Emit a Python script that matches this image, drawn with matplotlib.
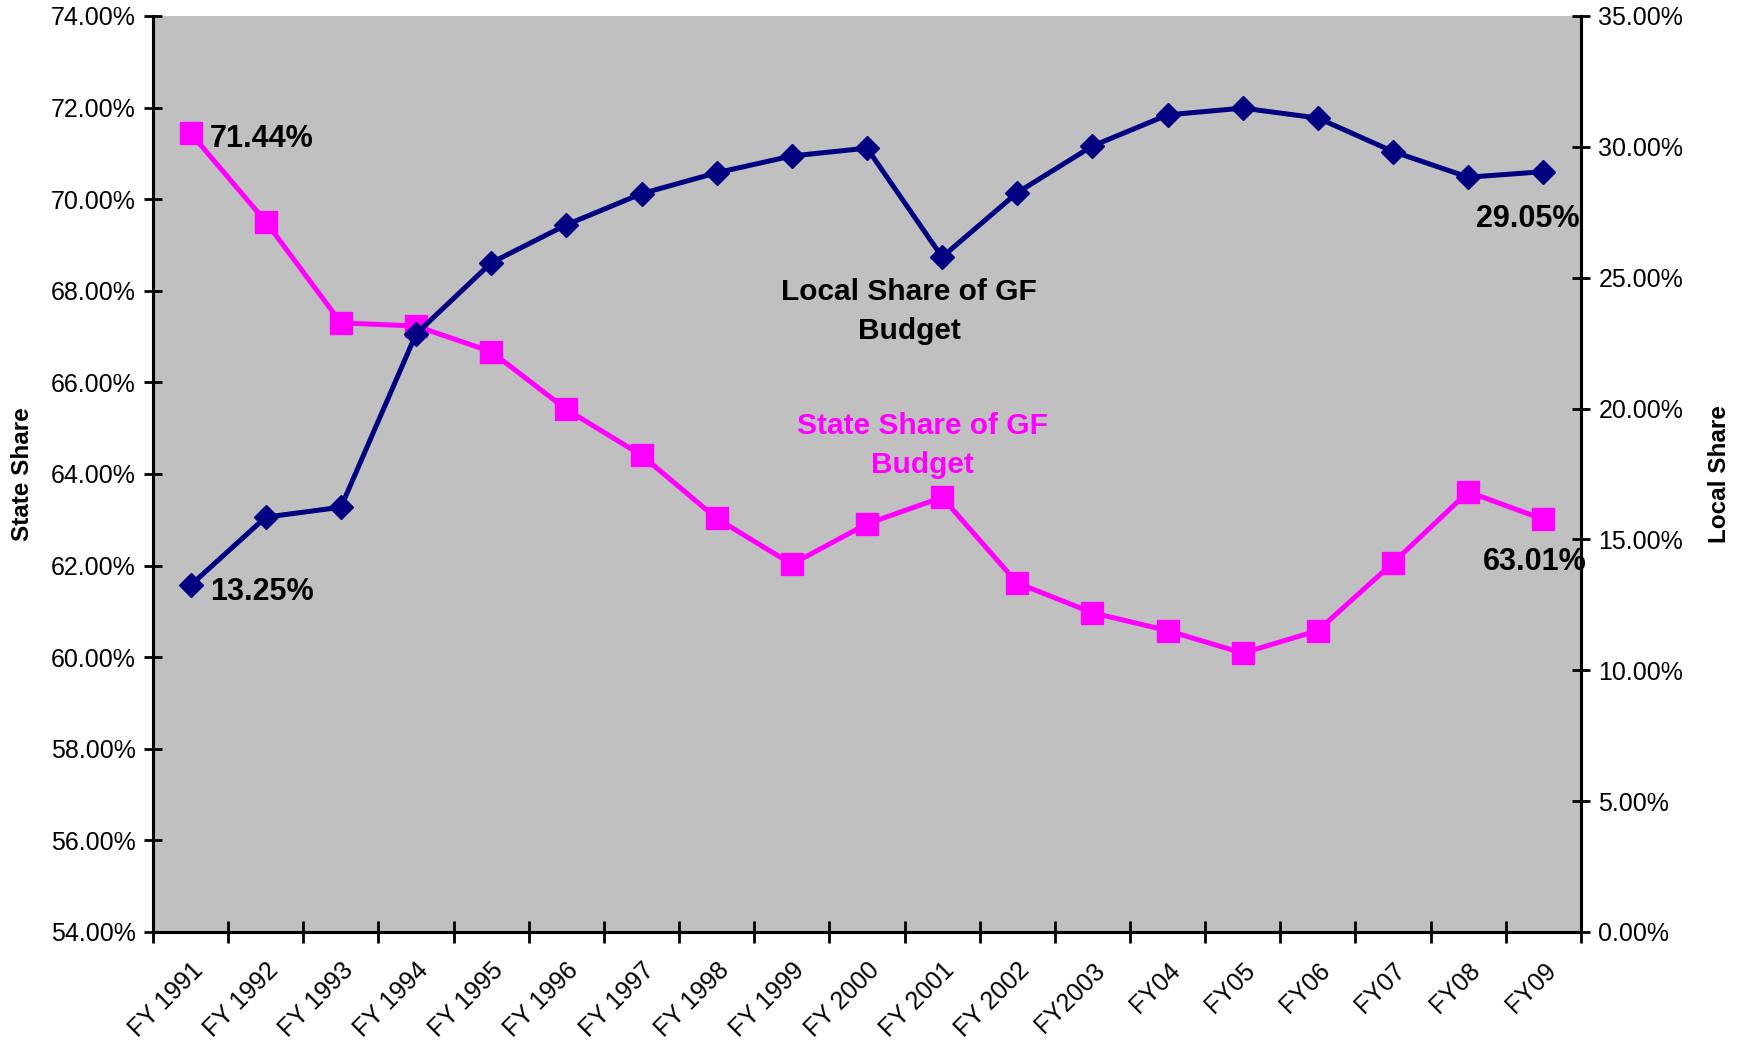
import numpy as np
import matplotlib.pyplot as plt
from matplotlib.ticker import FuncFormatter

plt.rcParams['font.family'] = ['Liberation Sans', 'DejaVu Sans']

years = ['FY 1991', 'FY 1992', 'FY 1993', 'FY 1994', 'FY 1995', 'FY 1996',
         'FY 1997', 'FY 1998', 'FY 1999', 'FY 2000', 'FY 2001', 'FY 2002',
         'FY2003', 'FY04', 'FY05', 'FY06', 'FY07', 'FY08', 'FY09']

# share of the general fund budget, in percent
state_share = [71.44, 69.51, 67.30, 67.23, 66.67, 65.41, 64.41, 63.03, 62.03,
               62.91, 63.49, 61.62, 60.97, 60.58, 60.09, 60.58, 62.06, 63.61,
               63.01]
local_share = [13.25, 15.85, 16.23, 22.85, 25.57, 27.02, 28.21, 29.01, 29.65,
               29.95, 25.79, 28.25, 30.03, 31.22, 31.48, 31.10, 29.82, 28.84,
               29.05]

pink = '#FF00FF'
navy = '#000080'

x = np.arange(len(years))

fig = plt.figure(figsize=(17.43, 10.44), dpi=100)
ax = fig.add_axes([0.0878, 0.1073, 0.8192, 0.8774])
ax.set_facecolor('#C0C0C0')
ax2 = ax.twinx()

ax.plot(x, state_share, color=pink, lw=3.6, marker='s', ms=15.5,
        markeredgecolor=pink, zorder=3)
ax2.plot(x, local_share, color=navy, lw=3.6, marker='D', ms=12.5,
         markeredgecolor=navy, zorder=3)

ax.set_xlim(-0.5, len(years) - 0.5)
ax.set_ylim(54, 74)
ax2.set_ylim(0, 35)
ax.set_yticks(np.arange(54, 74.1, 2))
ax2.set_yticks(np.arange(0, 35.1, 5))
pct = FuncFormatter(lambda v, p: '%.2f%%' % v)
ax.yaxis.set_major_formatter(pct)
ax2.yaxis.set_major_formatter(pct)

# category labels in the middle, tick marks on the boundaries
ax.set_xticks(x)
ax.set_xticklabels(years, rotation=45, ha='right', rotation_mode='anchor')
ax.set_xticks(np.arange(-0.5, len(years)), minor=True)
ax.tick_params(axis='x', which='major', length=0, pad=19, labelsize=18)
ax.tick_params(axis='x', which='minor', direction='inout', length=16, width=2)
ax.tick_params(axis='y', direction='inout', length=13, width=2, labelsize=18, pad=6)
ax2.tick_params(axis='y', direction='inout', length=13, width=2, labelsize=18, pad=6)

for a in (ax, ax2):
    a.spines['top'].set_visible(False)
    for s in ('left', 'right', 'bottom'):
        a.spines[s].set_linewidth(2.2)

ax.set_ylabel('State Share', fontsize=17.5, fontweight='bold', labelpad=12)
ax2.set_ylabel('Local Share', fontsize=17.5, fontweight='bold', labelpad=18)

lab = dict(fontsize=22, fontweight='bold', color='black', textcoords='offset points')
ax.annotate('%.2f%%' % state_share[0], (x[0], state_share[0]), xytext=(14, -4),
            ha='left', va='center', **lab)
ax2.annotate('%.2f%%' % local_share[0], (x[0], local_share[0]), xytext=(14, -5),
             ha='left', va='center', **lab)
ax2.annotate('%.2f%%' % local_share[-1], (x[-1], local_share[-1]), xytext=(26, -34),
             ha='right', va='center', **lab)
ax.annotate('%.2f%%' % state_share[-1], (x[-1], state_share[-1]), xytext=(31, -31),
            ha='right', va='center', **lab)

ax.text(9.56, 67.55, 'Local Share of GF\nBudget', ha='center', va='center',
        fontsize=21.5, fontweight='bold', color='black', linespacing=1.5, zorder=5)
ax.text(9.74, 64.62, 'State Share of GF\nBudget', ha='center', va='center',
        fontsize=21.5, fontweight='bold', color=pink, linespacing=1.5, zorder=5)

fig.savefig('out.png', dpi=100)
